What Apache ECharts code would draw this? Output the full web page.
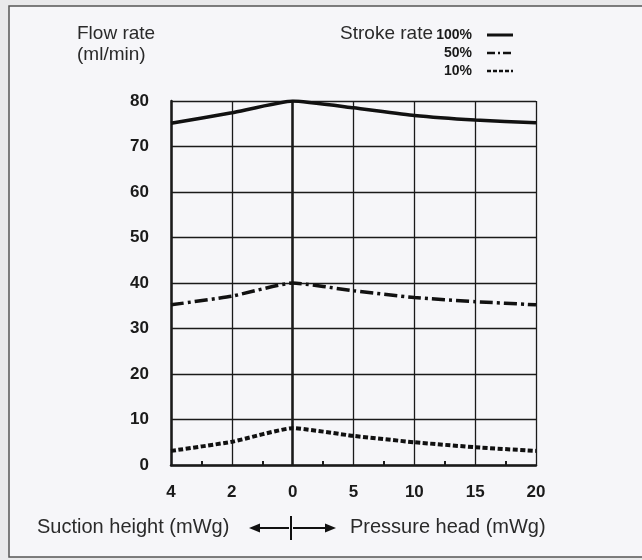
<!DOCTYPE html>
<html>
<head>
<meta charset="utf-8">
<script src="https://cdn.jsdelivr.net/npm/echarts@6/dist/echarts.min.js"></script>
<style>
html,body{margin:0;padding:0;background:#e9e9eb;}
#c{width:642px;height:560px;}
</style>
</head>
<body>
<div id="c"></div>
<script>
// x positions: suction height 4,2,0 then pressure head 5,10,15,20 (mWg)
var xTickLabels = ['4', '2', '0', '5', '10', '15', '20'];
var yTickValues = [0, 10, 20, 30, 40, 50, 60, 70, 80];
var stroke100 = [75.1, 77.4, 80.0, 78.5, 76.8, 75.8, 75.2];
var stroke50  = [35.2, 37.1, 40.0, 38.3, 36.8, 35.9, 35.2];
var stroke10  = [3.1, 5.1, 8.1, 6.4, 5.0, 3.9, 3.1];
var seriesNames = ['100%', '50%', '10%'];

function toPairs(arr){ return arr.map(function(v,i){ return [i, v]; }); }

var chart = echarts.init(document.getElementById('c'), null, {renderer:'canvas'});
var ink = '#1a1a1a';
var txt = '#2a2a2a';
var fontFam = '"Liberation Sans", Arial, Helvetica, sans-serif';

function label(x, y, text, font, align, color){
  return {type: 'text', x: x, y: y,
    style: {text: text, font: font, fill: color || txt, textAlign: align || 'left', textVerticalAlign: 'middle'}};
}

var option = {
  backgroundColor: 'transparent',
  animation: false,
  grid: {left: 171, top: 101, width: 365, height: 364, containLabel: false},
  xAxis: {
    type: 'value', min: 0, max: 6, interval: 1,
    axisLine: {show: true, onZero: false, lineStyle: {color: ink, width: 2.5}},
    axisTick: {show: false, inside: true},
    minorTick: {show: true, splitNumber: 2, length: 4, lineStyle: {color: ink, width: 2}},
    splitLine: {show: true, lineStyle: {color: ink, width: 1.3}},
    axisLabel: {
      margin: 19, color: ink, fontFamily: fontFam, fontWeight: 'bold', fontSize: 17,
      formatter: function(v){ return xTickLabels[Math.round(v)]; }
    }
  },
  yAxis: {
    type: 'value', min: yTickValues[0], max: yTickValues[yTickValues.length-1], interval: 10,
    axisLine: {show: true, lineStyle: {color: ink, width: 2.5}},
    axisTick: {show: false},
    splitLine: {show: true, lineStyle: {color: ink, width: 1.3}},
    axisLabel: {margin: 22, color: ink, fontFamily: fontFam, fontWeight: 'bold', fontSize: 17}
  },
  series: [
    {
      name: seriesNames[0], type: 'line', data: toPairs(stroke100), symbol: 'none', smooth: 0.15,
      lineStyle: {color: '#111', width: 3.5, type: 'solid'}, z: 5,
      markLine: {
        silent: true, symbol: 'none', label: {show: false},
        lineStyle: {color: ink, width: 2.5, type: 'solid'},
        data: [{xAxis: 2}]
      }
    },
    {
      name: seriesNames[1], type: 'line', data: toPairs(stroke50), symbol: 'none', smooth: 0.15,
      lineStyle: {color: '#111', width: 3.5, type: [13, 4, 3, 4]}, z: 5
    },
    {
      name: seriesNames[2], type: 'line', data: toPairs(stroke10), symbol: 'none', smooth: 0.15,
      lineStyle: {color: '#111', width: 4, type: [5, 2.5]}, z: 5
    }
  ],
  graphic: [
    {type: 'rect', z: -10, shape: {x: 9, y: 6, width: 650, height: 551},
     style: {fill: '#f6f6f9', stroke: '#555', lineWidth: 1.5}},
    label(77, 34, 'Flow rate', '19px ' + fontFam),
    label(77, 55, '(ml/min)', '19px ' + fontFam),
    label(433, 34, 'Stroke rate', '19px ' + fontFam, 'right'),
    label(472, 35, seriesNames[0], 'bold 14px ' + fontFam, 'right', ink),
    label(472, 53, seriesNames[1], 'bold 14px ' + fontFam, 'right', ink),
    label(472, 71, seriesNames[2], 'bold 14px ' + fontFam, 'right', ink),
    {type: 'line', shape: {x1: 487, y1: 35, x2: 513, y2: 35}, style: {stroke: '#111', lineWidth: 3}},
    {type: 'line', shape: {x1: 487, y1: 53, x2: 513, y2: 53}, style: {stroke: '#111', lineWidth: 2.5, lineDash: [8, 3, 2, 3]}},
    {type: 'line', shape: {x1: 487, y1: 71, x2: 513, y2: 71}, style: {stroke: '#111', lineWidth: 2.5, lineDash: [4, 2]}},
    label(37, 527, 'Suction height (mWg)', '20px ' + fontFam),
    label(350, 527, 'Pressure head (mWg)', '20px ' + fontFam),
    {type: 'line', shape: {x1: 256, y1: 528, x2: 289, y2: 528}, style: {stroke: '#111', lineWidth: 2}},
    {type: 'line', shape: {x1: 293, y1: 528, x2: 328, y2: 528}, style: {stroke: '#111', lineWidth: 2}},
    {type: 'line', shape: {x1: 291, y1: 516, x2: 291, y2: 540}, style: {stroke: '#111', lineWidth: 2}},
    {type: 'polygon', shape: {points: [[249, 528], [260, 523.5], [260, 532.5]]}, style: {fill: '#111'}},
    {type: 'polygon', shape: {points: [[336, 528], [325, 523.5], [325, 532.5]]}, style: {fill: '#111'}}
  ]
};
chart.setOption(option);
</script>
</body>
</html>
